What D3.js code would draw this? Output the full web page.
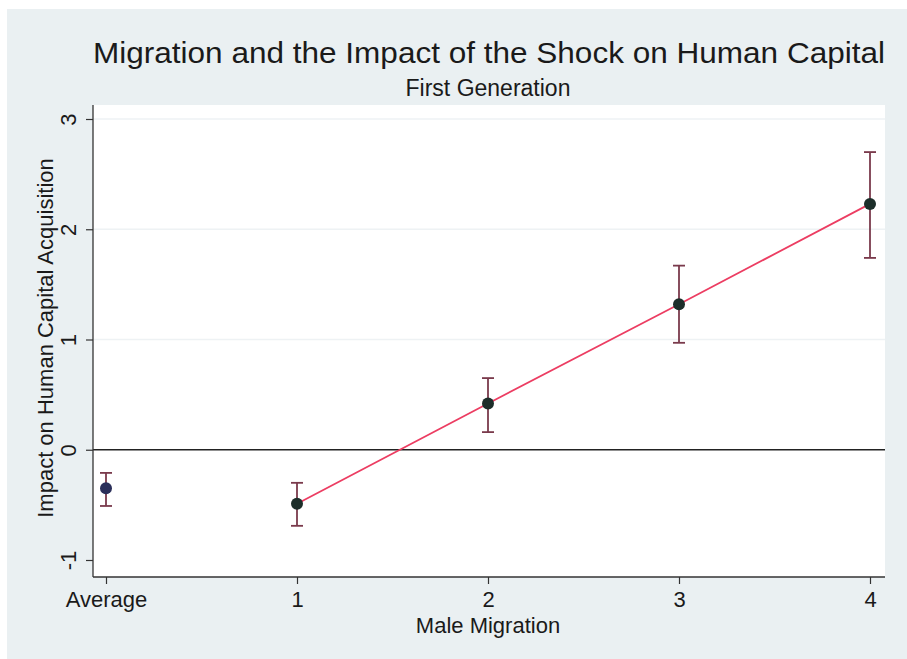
<!DOCTYPE html>
<html lang="en">
<head>
    <meta charset="UTF-8">
    <title>Migration and the Impact of the Shock on Human Capital</title>
    <style>
        body {
            margin: 0;
            padding: 0;
            background-color: #ffffff;
        }
        svg text {
            font-family: "Liberation Sans", Arial, Helvetica, sans-serif;
            fill: #1a1a1a;
        }
    </style>
    <script src="https://d3js.org/d3.v7.min.js"></script>
</head>
<body>
<div id="chart"></div>

<script>
    // Chart data
    const categories = ["Average", "1", "2", "3", "4"];
    const estimates  = [-0.35, -0.49, 0.42, 1.32, 2.23];
    const ciLow      = [-0.51, -0.69, 0.16, 0.97, 1.74];
    const ciHigh     = [-0.21, -0.30, 0.65, 1.67, 2.70];
    const yTicks     = [-1, 0, 1, 2, 3];
    const gridValues = [1, 2, 3];

    const W = 907, H = 659;
    const plot = { left: 93, right: 885, top: 105, bottom: 577 };

    const svg = d3.select("#chart").append("svg")
        .attr("width", W)
        .attr("height", H);

    // Outer background (Stata style)
    svg.append("rect")
        .attr("x", 7).attr("y", 9)
        .attr("width", W - 7).attr("height", H - 9)
        .attr("fill", "#eaf0f2");

    // Plot region
    svg.append("rect")
        .attr("x", plot.left).attr("y", plot.top)
        .attr("width", plot.right - plot.left)
        .attr("height", plot.bottom - plot.top)
        .attr("fill", "#ffffff");

    const x = d3.scalePoint()
        .domain(categories)
        .range([106, 870]);

    const y = d3.scaleLinear()
        .domain([-1, 3])
        .range([560, 119]);

    // Faint gridlines
    svg.selectAll(".grid")
        .data(gridValues)
        .enter().append("line")
        .attr("x1", plot.left).attr("x2", plot.right)
        .attr("y1", d => y(d)).attr("y2", d => y(d))
        .attr("stroke", "#eef2f4")
        .attr("stroke-width", 1.5);

    // Zero line
    svg.append("line")
        .attr("x1", plot.left).attr("x2", plot.right)
        .attr("y1", y(0)).attr("y2", y(0))
        .attr("stroke", "#222")
        .attr("stroke-width", 1.3);

    // Y axis (plain hyphen for negatives, as in the original)
    const yAxis = svg.append("g")
        .attr("transform", `translate(${plot.left},0)`)
        .call(d3.axisLeft(y).tickValues(yTicks).tickSize(7).tickFormat(d => String(d)));
    yAxis.select(".domain")
        .attr("d", `M0,${plot.top}V${plot.bottom}`)
        .attr("stroke", "#333").attr("stroke-width", 1.3);
    yAxis.selectAll(".tick line").attr("stroke", "#333").attr("stroke-width", 1.2);
    yAxis.selectAll(".tick text")
        .attr("x", 0).attr("dy", 0)
        .attr("transform", "translate(-17,0) rotate(-90)")
        .style("text-anchor", "middle")
        .style("font-size", "22px");

    // X axis
    const xAxis = svg.append("g")
        .attr("transform", `translate(0,${plot.bottom})`)
        .call(d3.axisBottom(x).tickSize(7));
    xAxis.select(".domain")
        .attr("d", `M${plot.left},0H${plot.right}`)
        .attr("stroke", "#333").attr("stroke-width", 1.3);
    xAxis.selectAll(".tick line").attr("stroke", "#333").attr("stroke-width", 1.2);
    xAxis.selectAll(".tick text")
        .attr("y", 30).attr("dy", 0)
        .style("font-size", "22px");

    // Axis titles
    svg.append("text")
        .attr("x", 488).attr("y", 633)
        .style("text-anchor", "middle")
        .style("font-size", "22px")
        .text("Male Migration");

    svg.append("text")
        .attr("transform", `translate(53,338) rotate(-90)`)
        .style("text-anchor", "middle")
        .style("font-size", "22px")
        .text("Impact on Human Capital Acquisition");

    // Titles
    svg.append("text")
        .attr("x", 489).attr("y", 63)
        .style("text-anchor", "middle")
        .style("font-size", "30px")
        .attr("textLength", 792)
        .attr("lengthAdjust", "spacingAndGlyphs")
        .text("Migration and the Impact of the Shock on Human Capital");

    svg.append("text")
        .attr("x", 488).attr("y", 96)
        .style("text-anchor", "middle")
        .style("font-size", "23px")
        .text("First Generation");

    // Fitted line through migration categories 1-4
    const lineData = categories.map((c, i) => ({ c, v: estimates[i] })).slice(1);
    svg.append("path")
        .datum(lineData)
        .attr("fill", "none")
        .attr("stroke", "#ec3d62")
        .attr("stroke-width", 1.8)
        .attr("d", d3.line().x(d => x(d.c)).y(d => y(d.v)));

    // Error bars
    const points = categories.map((c, i) => ({ c, v: estimates[i], lo: ciLow[i], hi: ciHigh[i], i }));
    const eb = svg.selectAll(".eb").data(points).enter().append("g")
        .attr("stroke", "#7a3a4c").attr("stroke-width", 1.8);
    eb.append("line")
        .attr("x1", d => x(d.c)).attr("x2", d => x(d.c))
        .attr("y1", d => y(d.lo)).attr("y2", d => y(d.hi));
    eb.append("line")
        .attr("x1", d => x(d.c) - 6).attr("x2", d => x(d.c) + 6)
        .attr("y1", d => y(d.lo)).attr("y2", d => y(d.lo));
    eb.append("line")
        .attr("x1", d => x(d.c) - 6).attr("x2", d => x(d.c) + 6)
        .attr("y1", d => y(d.hi)).attr("y2", d => y(d.hi));

    // Point estimates
    svg.selectAll(".dot")
        .data(points)
        .enter().append("circle")
        .attr("cx", d => x(d.c))
        .attr("cy", d => y(d.v))
        .attr("r", 6)
        .attr("fill", d => d.i === 0 ? "#2b2f5a" : "#1c2e2a");
</script>

</body>
</html>
